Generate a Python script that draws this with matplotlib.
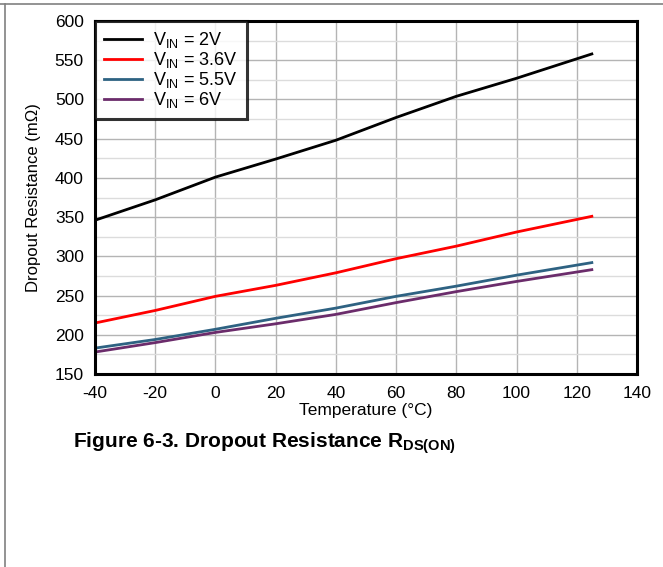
import numpy as np
import matplotlib
matplotlib.use('Agg')
import matplotlib.pyplot as plt
from matplotlib.lines import Line2D
from matplotlib.ticker import MultipleLocator

plt.rcParams['font.family'] = ['Liberation Sans', 'DejaVu Sans']
plt.rcParams['mathtext.fontset'] = 'custom'
plt.rcParams['mathtext.rm'] = 'Liberation Sans'
plt.rcParams['mathtext.bf'] = 'Liberation Sans:bold'
plt.rcParams['axes.unicode_minus'] = False

# Temperature points (°C)
temp = [-40, -20, 0, 20, 40, 60, 80, 100, 125]

# Dropout resistance (mOhm) per input voltage
r_2v = [346, 372, 401, 424, 448, 477, 504, 527, 558]
r_3v6 = [215, 231, 249, 263, 279, 297, 313, 331, 351]
r_5v5 = [183, 194, 207, 221, 234, 249, 262, 276, 292]
r_6v = [178, 190, 203, 214, 226, 241, 255, 268, 283]

labels = [r'V$_{\mathregular{IN}}$ = 2V', r'V$_{\mathregular{IN}}$ = 3.6V',
          r'V$_{\mathregular{IN}}$ = 5.5V', r'V$_{\mathregular{IN}}$ = 6V']
colors = ['#000000', '#ff0000', '#2e6282', '#6b2c6b']

fig = plt.figure(figsize=(6.63, 5.67), dpi=100)
ax = fig.add_axes([95 / 663, 1 - 374 / 567, 542 / 663, 353 / 567])

for vals, lab, col in zip([r_2v, r_3v6, r_5v5, r_6v], labels, colors):
    ax.plot(temp, vals, color=col, lw=2, label=lab)

ax.set_xlim(-40, 140)
ax.set_ylim(150, 600)
ax.xaxis.set_major_locator(MultipleLocator(20))
ax.yaxis.set_major_locator(MultipleLocator(50))
ax.yaxis.set_minor_locator(MultipleLocator(25))
ax.grid(which='major', color='#b4b4b4', lw=1.0)
ax.grid(which='minor', axis='y', color='#dcdcdc', lw=1.0)
ax.set_axisbelow(True)
ax.tick_params(which='both', length=0, labelsize=12.5)
ax.tick_params(axis='x', pad=9)
ax.tick_params(axis='y', pad=8)
for s in ax.spines.values():
    s.set_linewidth(2.2)

ax.set_xlabel('Temperature (°C)', fontsize=12.5, labelpad=1)
ax.set_ylabel('Dropout Resistance (m\u03a9)', fontsize=12, labelpad=10)

leg = ax.legend(loc='upper left', fontsize=13, frameon=True, fancybox=False,
                borderaxespad=0, handlelength=2.1, labelspacing=0.0,
                borderpad=0.5, handletextpad=0.6)
leg.get_frame().set_edgecolor('black')
leg.get_frame().set_linewidth(2.2)

fig.text(73 / 663, 1 - 443 / 567,
         r'Figure 6-3. Dropout Resistance R$_{\mathbf{DS(ON)}}$',
         fontsize=15, fontweight='bold', ha='left', va='center')

# page frame lines
fig.add_artist(Line2D([0, 1], [1 - 4 / 567, 1 - 4 / 567], transform=fig.transFigure,
                      color='#808080', lw=1.2))
fig.add_artist(Line2D([5 / 663, 5 / 663], [0, 1 - 4 / 567], transform=fig.transFigure,
                      color='#808080', lw=1.2))

fig.savefig('out.png', dpi=100)
